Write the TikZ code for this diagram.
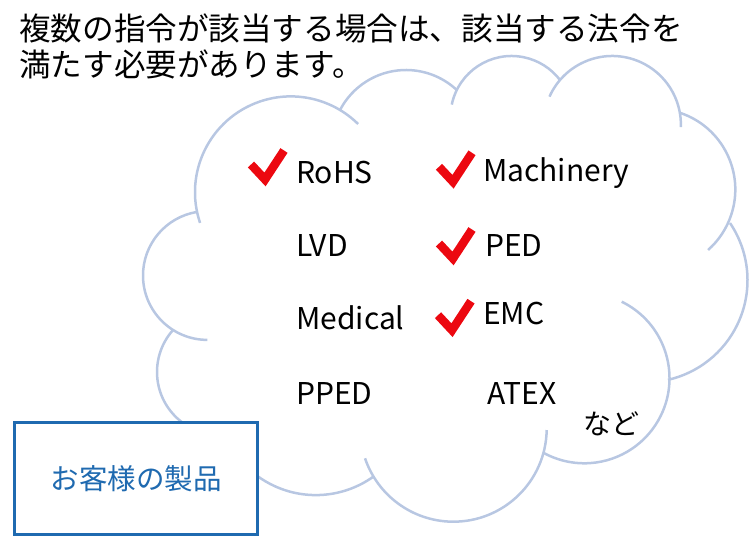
\documentclass[tikz,border=0pt]{standalone}
\usepackage{fontspec}
\setmainfont{Noto Sans CJK JP}
\usepackage{tikz}
\usetikzlibrary{positioning}
\definecolor{cloudblue}{RGB}{184,199,226}
\definecolor{boxblue}{RGB}{31,106,176}
\definecolor{tickred}{RGB}{236,8,16}

\begin{document}
\begin{tikzpicture}[
    x=1pt, y=1pt,
    heading/.style={font=\fontsize{31.6}{36}\selectfont, inner sep=0pt, anchor=base west},
    directive/.style={font=\fontsize{30}{36}\selectfont, inner sep=0pt, anchor=base west},
    puff/.style={draw=cloudblue, line width=2.5pt},
    tick/.style={draw=tickred, line width=8.5pt, line join=miter},
    prodbox/.style={draw=boxblue, line width=3pt, fill=white, text=boxblue, minimum width=243.6pt, minimum height=112.3pt, font=\fontsize{28.5}{34}\selectfont}
  ]
    \useasboundingbox (0,0) rectangle (750,537);

    \foreach \px/\py/\rad/\sa/\ea in {220/165/63/-80/-222, 207.4/261.5/64.4/-90/-260.7,
        290.8/344.8/95.8/-161.3/-314.6, 406/392.6/74.4/-207.5/-313,
        511.5/420/61/-191.7/-322.9, 612.2/412.3/68.7/-204.1/-362,
        654.5/347.5/80.8/71.6/-48.5, 645.3/256.8/102.2/34/-77.2,
        584.4/158.8/85.1/64/-119.3, 453.4/108.6/93.3/-1/-161.3,
        315.8/140.9/99/-54.5/-160}
      \draw[puff] (\px,\py) ++(\sa:\rad) arc[start angle=\sa, end angle=\ea, radius=\rad*1pt];

    \node[heading] (title1) at (19,496) {複数の指令が該当する場合は、該当する法令を};
    \node[heading, below=36pt of title1.base west, anchor=base west] (title2) {満たす必要があります。};

    \node[directive] (rohs) at (296,353.7) {RoHS};
    \node[directive] (lvd) at (296,280.3) {LVD};
    \node[directive] (medical) at (296,207) {Medical};
    \node[directive] (pped) at (296,132) {PPED};
    \node[directive] (machinery) at (483,355.3) {Machinery};
    \node[directive] (ped) at (485,280.3) {PED};
    \node[directive] (emc) at (483,212) {EMC};
    \node[directive] (atex) at (487,132) {ATEX};
    \node[font=\fontsize{28}{34}\selectfont, inner sep=0pt] (nado) at (611,113) {など};

    \foreach \vx/\vy in {265/357.5, 453/355.2, 453/278.5, 452/206.8}
      \draw[tick] (\vx,\vy) ++(-14,15) -- ++(14,-15) -- ++(19,29);

    \node[prodbox] (product) at (136,58.6) {お客様の製品};
  \end{tikzpicture}
\end{document}
